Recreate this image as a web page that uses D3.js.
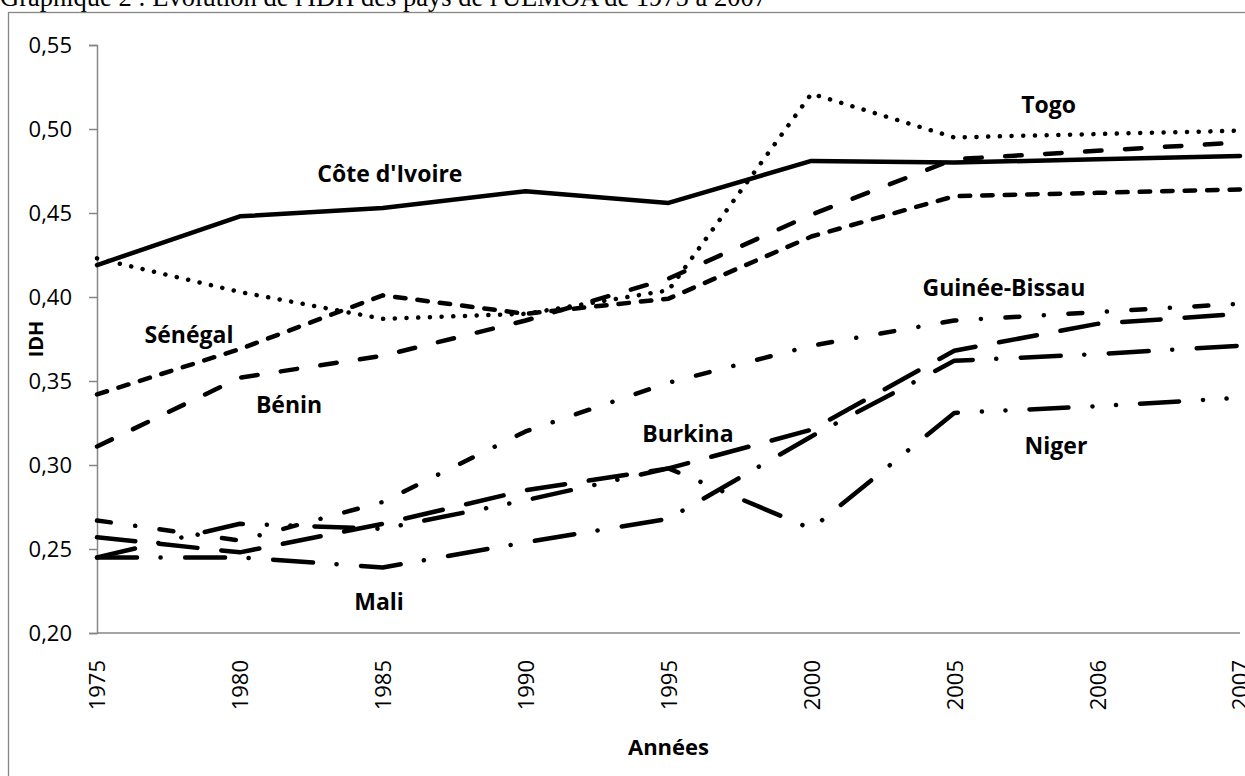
<!DOCTYPE html>
<html>
<head>
<meta charset="utf-8">
<script src="https://cdn.jsdelivr.net/npm/d3@7"></script>
<style>
  body { margin: 0; background: #fff; }
  svg { display: block; }
</style>
</head>
<body>
<div id="chart"></div>
<script>
const width = 1245;
const height = 776;
const margin = { top: 45, right: 5, bottom: 143, left: 97 };

// data
const years = ["1975", "1980", "1985", "1990", "1995", "2000", "2005", "2006", "2007"];
const coteIvoire = [0.419, 0.448, 0.453, 0.463, 0.456, 0.481, 0.480, 0.482, 0.484];
const togo = [0.423, 0.403, 0.387, 0.390, 0.404, 0.521, 0.495, 0.497, 0.499];
const senegal = [0.342, 0.369, 0.401, 0.390, 0.399, 0.436, 0.460, 0.462, 0.464];
const benin = [0.311, 0.352, 0.365, 0.386, 0.411, 0.449, 0.482, 0.487, 0.492];
const guineeBissau = [0.267, 0.255, 0.278, 0.320, 0.349, 0.371, 0.386, 0.391, 0.396];
const burkina = [0.257, 0.248, 0.265, 0.285, 0.298, 0.321, 0.368, 0.384, 0.390];
const niger = [0.245, 0.265, 0.262, 0.279, 0.298, 0.262, 0.331, 0.335, 0.340];
const mali = [0.245, 0.245, 0.239, 0.254, 0.268, 0.317, 0.362, 0.366, 0.371];
const yTicks = [0.20, 0.25, 0.30, 0.35, 0.40, 0.45, 0.50, 0.55];

const series = [
  { name: "Côte d'Ivoire", values: coteIvoire, dash: null },
  { name: "Togo", values: togo, dash: "0.1 11.6" },
  { name: "Sénégal", values: senegal, dash: "10.5 12" },
  { name: "Bénin", values: benin, dash: "16.5 23.5" },
  { name: "Guinée-Bissau", values: guineeBissau, dash: "14 24.5 0.1 24.5" },
  { name: "Burkina", values: burkina, dash: "38.5 24" },
  { name: "Niger", values: niger, dash: "39 24 0.1 23.5 0.1 24" },
  { name: "Mali", values: mali, dash: "40 23.5 0.1 24.5" }
];

// where each name sits, in (category index, IDH) units
const labelSpots = [
  { name: "Côte d'Ivoire", at: [2.05, 0.4686] },
  { name: "Togo", at: [6.66, 0.5096] },
  { name: "Sénégal", at: [0.644, 0.3726] },
  { name: "Bénin", at: [1.344, 0.3311] },
  { name: "Guinée-Bissau", at: [6.348, 0.4007] },
  { name: "Burkina", at: [4.136, 0.3138] },
  { name: "Niger", at: [6.712, 0.3065] },
  { name: "Mali", at: [1.974, 0.2137] }
];

const plotW = width - margin.left - margin.right;
const plotH = height - margin.top - margin.bottom;

const svg = d3
  .select("#chart")
  .append("svg")
  .attr("width", width)
  .attr("height", height);

// title, partly cut by the top edge (as in the source)
svg
  .append("text")
  .attr("x", 0)
  .attr("y", 6)
  .attr("font-family", "Liberation Serif, Times New Roman, serif")
  .attr("font-size", 26.5)
  .text("Graphique 2 : Evolution de l'IDH des pays de l'UEMOA de 1975 à 2007");

// chart area frame
svg
  .append("rect")
  .attr("x", 8.5)
  .attr("y", 12.5)
  .attr("width", 1300)
  .attr("height", 800)
  .attr("fill", "none")
  .attr("stroke", "#868686")
  .attr("stroke-width", 1.3);

const g = svg
  .append("g")
  .attr("transform", `translate(${margin.left},${margin.top})`);

const xScale = d3.scalePoint().domain(years).range([0, plotW]);
const xIdx = d3.scaleLinear().domain([0, years.length - 1]).range([0, plotW]);
const yScale = d3.scaleLinear().domain([0.2, 0.55]).range([plotH, 0]);

const font = "Open Sans, Calibri, sans-serif";

// y axis
const yAxis = g
  .append("g")
  .call(
    d3.axisLeft(yScale)
      .tickValues(yTicks)
      .tickSize(8)
      .tickPadding(17)
      .tickFormat((d) => d3.format(".2f")(d).replace(".", ","))
  );
yAxis.select(".domain").attr("stroke", "#868686").attr("stroke-width", 1.5);
yAxis.selectAll(".tick line").attr("stroke", "#868686").attr("stroke-width", 1.5);
yAxis
  .selectAll(".tick text")
  .attr("font-family", font)
  .attr("font-size", 22)
  .attr("fill", "#000");

// x axis
const xAxis = g
  .append("g")
  .attr("transform", `translate(0,${plotH})`)
  .call(d3.axisBottom(xScale).tickSize(0).tickPadding(0));
xAxis
  .select(".domain")
  .attr("d", `M0,0H${plotW}`)
  .attr("stroke", "#868686")
  .attr("stroke-width", 1.5);
xAxis
  .selectAll(".tick text")
  .attr("font-family", font)
  .attr("font-size", 22)
  .attr("fill", "#000")
  .attr("text-anchor", "end")
  .attr("transform", "translate(0,27) rotate(-90)")
  .attr("x", 0)
  .attr("y", 0)
  .attr("dy", "0.36em");

// axis titles
g.append("text")
  .attr("transform", `translate(${-54},${yScale(0.375)}) rotate(-90)`)
  .attr("text-anchor", "middle")
  .attr("font-family", font)
  .attr("font-weight", "bold")
  .attr("font-size", 20)
  .text("IDH");

g.append("text")
  .attr("x", xIdx(4))
  .attr("y", plotH + 122)
  .attr("text-anchor", "middle")
  .attr("font-family", font)
  .attr("font-weight", "bold")
  .attr("font-size", 22)
  .text("Années");

// lines
const line = d3
  .line()
  .x((d, i) => xScale(years[i]))
  .y((d) => yScale(d));

g.selectAll(".serie")
  .data(series)
  .enter()
  .append("path")
  .attr("class", "serie")
  .attr("d", (d) => line(d.values))
  .attr("fill", "none")
  .attr("stroke", "#000")
  .attr("stroke-width", 4.5)
  .attr("stroke-linecap", "round")
  .attr("stroke-linejoin", "round")
  .attr("stroke-dasharray", (d) => d.dash);

// country names
g.selectAll(".label")
  .data(labelSpots)
  .enter()
  .append("text")
  .attr("class", "label")
  .attr("x", (d) => xIdx(d.at[0]))
  .attr("y", (d) => yScale(d.at[1]))
  .attr("text-anchor", "middle")
  .attr("font-family", font)
  .attr("font-weight", "bold")
  .attr("font-size", 23)
  .text((d) => d.name);
</script>
</body>
</html>
